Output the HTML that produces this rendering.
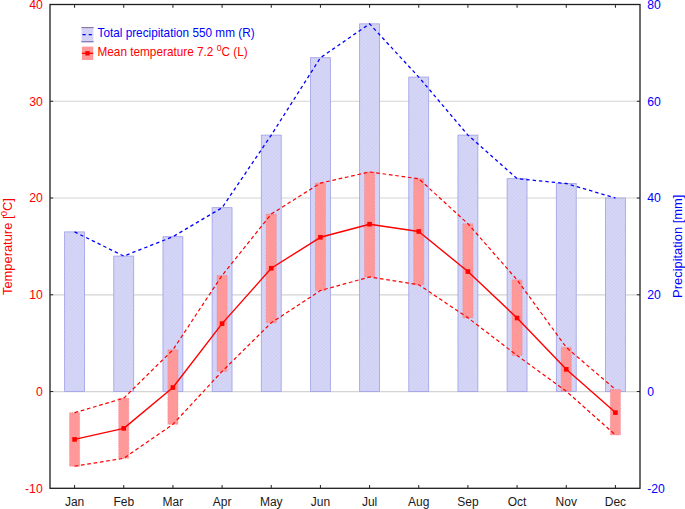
<!DOCTYPE html>
<html><head><meta charset="utf-8"><title>Climate chart</title>
<style>
html,body{margin:0;padding:0;background:#fff;}
body{width:685px;height:509px;overflow:hidden;font-family:"Liberation Sans",sans-serif;}
svg{display:block;}
text{font-family:"Liberation Sans",sans-serif;font-size:11.8px;}
</style></head><body>
<svg width="685" height="509" viewBox="0 0 685 509">
<defs>
<pattern id="hb" width="2.4" height="2.4" patternUnits="userSpaceOnUse" patternTransform="rotate(-45)">
<rect width="2.4" height="2.4" fill="#d8d8f7"/><rect width="2.4" height="1.1" fill="#cdcdf4"/>
</pattern>
</defs>
<rect width="685" height="509" fill="#fff"/>

<line x1="50.0" y1="101.26" x2="640.0" y2="101.26" stroke="#d4d4d4" stroke-width="1.2"/>
<line x1="50.0" y1="198.02" x2="640.0" y2="198.02" stroke="#d4d4d4" stroke-width="1.2"/>
<line x1="50.0" y1="294.78" x2="640.0" y2="294.78" stroke="#d4d4d4" stroke-width="1.2"/>
<line x1="50.0" y1="391.54" x2="640.0" y2="391.54" stroke="#d4d4d4" stroke-width="1.2"/>
<rect x="64.63" y="231.89" width="19.9" height="159.65" fill="url(#hb)" stroke="#9e9ee6" stroke-width="0.8"/>
<rect x="113.80" y="256.08" width="19.9" height="135.46" fill="url(#hb)" stroke="#9e9ee6" stroke-width="0.8"/>
<rect x="162.97" y="236.72" width="19.9" height="154.82" fill="url(#hb)" stroke="#9e9ee6" stroke-width="0.8"/>
<rect x="212.13" y="207.70" width="19.9" height="183.84" fill="url(#hb)" stroke="#9e9ee6" stroke-width="0.8"/>
<rect x="261.30" y="135.13" width="19.9" height="256.41" fill="url(#hb)" stroke="#9e9ee6" stroke-width="0.8"/>
<rect x="310.47" y="57.72" width="19.9" height="333.82" fill="url(#hb)" stroke="#9e9ee6" stroke-width="0.8"/>
<rect x="359.63" y="23.85" width="19.9" height="367.69" fill="url(#hb)" stroke="#9e9ee6" stroke-width="0.8"/>
<rect x="408.80" y="77.07" width="19.9" height="314.47" fill="url(#hb)" stroke="#9e9ee6" stroke-width="0.8"/>
<rect x="457.97" y="135.13" width="19.9" height="256.41" fill="url(#hb)" stroke="#9e9ee6" stroke-width="0.8"/>
<rect x="507.13" y="178.67" width="19.9" height="212.87" fill="url(#hb)" stroke="#9e9ee6" stroke-width="0.8"/>
<rect x="556.30" y="183.51" width="19.9" height="208.03" fill="url(#hb)" stroke="#9e9ee6" stroke-width="0.8"/>
<rect x="605.47" y="198.02" width="19.9" height="193.52" fill="url(#hb)" stroke="#9e9ee6" stroke-width="0.8"/>
<rect x="69.53" y="412.69" width="10.1" height="53.53" fill="#ff9999" stroke="#ee7a8c" stroke-width="0.6" stroke-dasharray="1.2 1"/>
<rect x="118.70" y="398.17" width="10.1" height="60.11" fill="#ff9999" stroke="#ee7a8c" stroke-width="0.6" stroke-dasharray="1.2 1"/>
<rect x="167.87" y="349.77" width="10.1" height="74.54" fill="#ff9999" stroke="#ee7a8c" stroke-width="0.6" stroke-dasharray="1.2 1"/>
<rect x="217.03" y="275.43" width="10.1" height="95.93" fill="#ff9999" stroke="#ee7a8c" stroke-width="0.6" stroke-dasharray="1.2 1"/>
<rect x="266.20" y="214.06" width="10.1" height="108.71" fill="#ff9999" stroke="#ee7a8c" stroke-width="0.6" stroke-dasharray="1.2 1"/>
<rect x="315.37" y="183.08" width="10.1" height="107.45" fill="#ff9999" stroke="#ee7a8c" stroke-width="0.6" stroke-dasharray="1.2 1"/>
<rect x="364.53" y="171.95" width="10.1" height="105.03" fill="#ff9999" stroke="#ee7a8c" stroke-width="0.6" stroke-dasharray="1.2 1"/>
<rect x="413.70" y="178.72" width="10.1" height="106.00" fill="#ff9999" stroke="#ee7a8c" stroke-width="0.6" stroke-dasharray="1.2 1"/>
<rect x="462.87" y="223.74" width="10.1" height="94.09" fill="#ff9999" stroke="#ee7a8c" stroke-width="0.6" stroke-dasharray="1.2 1"/>
<rect x="512.03" y="279.88" width="10.1" height="75.60" fill="#ff9999" stroke="#ee7a8c" stroke-width="0.6" stroke-dasharray="1.2 1"/>
<rect x="561.20" y="347.35" width="10.1" height="43.85" fill="#ff9999" stroke="#ee7a8c" stroke-width="0.6" stroke-dasharray="1.2 1"/>
<rect x="610.37" y="389.46" width="10.1" height="45.50" fill="#ff9999" stroke="#ee7a8c" stroke-width="0.6" stroke-dasharray="1.2 1"/>
<polyline points="74.58,231.89 123.75,256.08 172.92,236.72 222.08,207.70 271.25,135.13 320.42,57.72 369.58,23.85 418.75,77.07 467.92,135.13 517.08,178.67 566.25,183.51 615.42,198.02" fill="none" stroke="#0000ff" stroke-width="1.3" stroke-dasharray="3.4 3"/>
<polyline points="74.58,412.69 123.75,398.17 172.92,349.77 222.08,275.43 271.25,214.06 320.42,183.08 369.58,171.95 418.75,178.72 467.92,223.74 517.08,279.88 566.25,347.35 615.42,389.46" fill="none" stroke="#ff0000" stroke-width="1.2" stroke-dasharray="3.7 2.7"/>
<polyline points="74.58,466.22 123.75,458.28 172.92,424.31 222.08,371.36 271.25,322.76 320.42,290.53 369.58,276.98 418.75,284.72 467.92,317.83 517.08,355.48 566.25,391.20 615.42,434.95" fill="none" stroke="#ff0000" stroke-width="1.2" stroke-dasharray="3.7 2.7"/>
<polyline points="74.58,439.41 123.75,428.37 172.92,387.52 222.08,323.63 271.25,268.26 320.42,237.29 369.58,224.22 418.75,231.48 467.92,271.56 517.08,318.02 566.25,369.32 615.42,412.59" fill="none" stroke="#ff0000" stroke-width="1.4" stroke-linejoin="round"/>
<rect x="72.28" y="437.11" width="4.6" height="4.6" fill="#ff0000"/>
<rect x="121.45" y="426.07" width="4.6" height="4.6" fill="#ff0000"/>
<rect x="170.62" y="385.22" width="4.6" height="4.6" fill="#ff0000"/>
<rect x="219.78" y="321.33" width="4.6" height="4.6" fill="#ff0000"/>
<rect x="268.95" y="265.96" width="4.6" height="4.6" fill="#ff0000"/>
<rect x="318.12" y="234.99" width="4.6" height="4.6" fill="#ff0000"/>
<rect x="367.28" y="221.92" width="4.6" height="4.6" fill="#ff0000"/>
<rect x="416.45" y="229.18" width="4.6" height="4.6" fill="#ff0000"/>
<rect x="465.62" y="269.26" width="4.6" height="4.6" fill="#ff0000"/>
<rect x="514.78" y="315.72" width="4.6" height="4.6" fill="#ff0000"/>
<rect x="563.95" y="367.02" width="4.6" height="4.6" fill="#ff0000"/>
<rect x="613.12" y="410.29" width="4.6" height="4.6" fill="#ff0000"/>
<rect x="50.0" y="4.5" width="590.0" height="483.8" fill="none" stroke="#1e1e1e" stroke-width="1.3"/>
<line x1="74.58" y1="4.5" x2="74.58" y2="7.8" stroke="#222" stroke-width="1"/>
<line x1="74.58" y1="488.3" x2="74.58" y2="485.0" stroke="#222" stroke-width="1"/>
<line x1="123.75" y1="4.5" x2="123.75" y2="7.8" stroke="#222" stroke-width="1"/>
<line x1="123.75" y1="488.3" x2="123.75" y2="485.0" stroke="#222" stroke-width="1"/>
<line x1="172.92" y1="4.5" x2="172.92" y2="7.8" stroke="#222" stroke-width="1"/>
<line x1="172.92" y1="488.3" x2="172.92" y2="485.0" stroke="#222" stroke-width="1"/>
<line x1="222.08" y1="4.5" x2="222.08" y2="7.8" stroke="#222" stroke-width="1"/>
<line x1="222.08" y1="488.3" x2="222.08" y2="485.0" stroke="#222" stroke-width="1"/>
<line x1="271.25" y1="4.5" x2="271.25" y2="7.8" stroke="#222" stroke-width="1"/>
<line x1="271.25" y1="488.3" x2="271.25" y2="485.0" stroke="#222" stroke-width="1"/>
<line x1="320.42" y1="4.5" x2="320.42" y2="7.8" stroke="#222" stroke-width="1"/>
<line x1="320.42" y1="488.3" x2="320.42" y2="485.0" stroke="#222" stroke-width="1"/>
<line x1="369.58" y1="4.5" x2="369.58" y2="7.8" stroke="#222" stroke-width="1"/>
<line x1="369.58" y1="488.3" x2="369.58" y2="485.0" stroke="#222" stroke-width="1"/>
<line x1="418.75" y1="4.5" x2="418.75" y2="7.8" stroke="#222" stroke-width="1"/>
<line x1="418.75" y1="488.3" x2="418.75" y2="485.0" stroke="#222" stroke-width="1"/>
<line x1="467.92" y1="4.5" x2="467.92" y2="7.8" stroke="#222" stroke-width="1"/>
<line x1="467.92" y1="488.3" x2="467.92" y2="485.0" stroke="#222" stroke-width="1"/>
<line x1="517.08" y1="4.5" x2="517.08" y2="7.8" stroke="#222" stroke-width="1"/>
<line x1="517.08" y1="488.3" x2="517.08" y2="485.0" stroke="#222" stroke-width="1"/>
<line x1="566.25" y1="4.5" x2="566.25" y2="7.8" stroke="#222" stroke-width="1"/>
<line x1="566.25" y1="488.3" x2="566.25" y2="485.0" stroke="#222" stroke-width="1"/>
<line x1="615.42" y1="4.5" x2="615.42" y2="7.8" stroke="#222" stroke-width="1"/>
<line x1="615.42" y1="488.3" x2="615.42" y2="485.0" stroke="#222" stroke-width="1"/>
<line x1="50.0" y1="101.26" x2="53.2" y2="101.26" stroke="#222" stroke-width="1"/>
<line x1="640.0" y1="101.26" x2="636.8" y2="101.26" stroke="#222" stroke-width="1"/>
<line x1="50.0" y1="198.02" x2="53.2" y2="198.02" stroke="#222" stroke-width="1"/>
<line x1="640.0" y1="198.02" x2="636.8" y2="198.02" stroke="#222" stroke-width="1"/>
<line x1="50.0" y1="294.78" x2="53.2" y2="294.78" stroke="#222" stroke-width="1"/>
<line x1="640.0" y1="294.78" x2="636.8" y2="294.78" stroke="#222" stroke-width="1"/>
<line x1="50.0" y1="391.54" x2="53.2" y2="391.54" stroke="#222" stroke-width="1"/>
<line x1="640.0" y1="391.54" x2="636.8" y2="391.54" stroke="#222" stroke-width="1"/>
<text x="42.7" y="8.90" text-anchor="end" style="font-size:12.2px" fill="#ff0000">40</text>
<text x="42.7" y="105.66" text-anchor="end" style="font-size:12.2px" fill="#ff0000">30</text>
<text x="42.7" y="202.42" text-anchor="end" style="font-size:12.2px" fill="#ff0000">20</text>
<text x="42.7" y="299.18" text-anchor="end" style="font-size:12.2px" fill="#ff0000">10</text>
<text x="42.7" y="395.94" text-anchor="end" style="font-size:12.2px" fill="#ff0000">0</text>
<text x="42.7" y="492.70" text-anchor="end" style="font-size:12.2px" fill="#ff0000">-10</text>
<text x="647.2" y="8.90" style="font-size:12.2px" fill="#0000ff">80</text>
<text x="647.2" y="105.66" style="font-size:12.2px" fill="#0000ff">60</text>
<text x="647.2" y="202.42" style="font-size:12.2px" fill="#0000ff">40</text>
<text x="647.2" y="299.18" style="font-size:12.2px" fill="#0000ff">20</text>
<text x="647.2" y="395.94" style="font-size:12.2px" fill="#0000ff">0</text>
<text x="647.2" y="492.70" style="font-size:12.2px" fill="#0000ff">-20</text>
<text x="74.58" y="506.2" text-anchor="middle" style="font-size:12px" fill="#1a1a1a">Jan</text>
<text x="123.75" y="506.2" text-anchor="middle" style="font-size:12px" fill="#1a1a1a">Feb</text>
<text x="172.92" y="506.2" text-anchor="middle" style="font-size:12px" fill="#1a1a1a">Mar</text>
<text x="222.08" y="506.2" text-anchor="middle" style="font-size:12px" fill="#1a1a1a">Apr</text>
<text x="271.25" y="506.2" text-anchor="middle" style="font-size:12px" fill="#1a1a1a">May</text>
<text x="320.42" y="506.2" text-anchor="middle" style="font-size:12px" fill="#1a1a1a">Jun</text>
<text x="369.58" y="506.2" text-anchor="middle" style="font-size:12px" fill="#1a1a1a">Jul</text>
<text x="418.75" y="506.2" text-anchor="middle" style="font-size:12px" fill="#1a1a1a">Aug</text>
<text x="467.92" y="506.2" text-anchor="middle" style="font-size:12px" fill="#1a1a1a">Sep</text>
<text x="517.08" y="506.2" text-anchor="middle" style="font-size:12px" fill="#1a1a1a">Oct</text>
<text x="566.25" y="506.2" text-anchor="middle" style="font-size:12px" fill="#1a1a1a">Nov</text>
<text x="615.42" y="506.2" text-anchor="middle" style="font-size:12px" fill="#1a1a1a">Dec</text>
<text transform="translate(12.3,246.6) rotate(-90)" text-anchor="middle" style="font-size:12.9px" fill="#ff0000">Temperature [<tspan style="font-size:9.5px" dy="-5.8" dx="-0.6">0</tspan><tspan dy="5.8" dx="-0.2">C]</tspan></text>
<text transform="translate(682.3,246.3) rotate(-90)" text-anchor="middle" style="font-size:12.9px" fill="#0000ff">Precipitation [mm]</text>
<rect x="81.6" y="27.6" width="11.8" height="14.2" fill="url(#hb)" stroke="none"/>
<line x1="81.3" y1="27.6" x2="93.7" y2="27.6" stroke="#7a5a8a" stroke-width="0.9"/>
<line x1="81.3" y1="41.8" x2="93.7" y2="41.8" stroke="#5a4a9a" stroke-width="0.9"/>
<line x1="82.5" y1="34.7" x2="93" y2="34.7" stroke="#0000ff" stroke-width="1.3" stroke-dasharray="3.2 3"/>
<text transform="translate(97.5,37.3) scale(0.966,1)" style="font-size:12.2px" fill="#0000ff">Total precipitation 550 mm (R)</text>
<rect x="81.9" y="46.6" width="11.3" height="13.4" fill="#ff9999"/>
<line x1="81.9" y1="53.3" x2="93.2" y2="53.3" stroke="#ff0000" stroke-width="1.3"/>
<rect x="85.3" y="51.1" width="4.4" height="4.4" fill="#ff0000"/>
<text transform="translate(97.5,55.8) scale(0.966,1)" style="font-size:12.2px" fill="#ff0000">Mean temperature 7.2 <tspan style="font-size:9px" dy="-5">0</tspan><tspan dy="5">C (L)</tspan></text>
</svg></body></html>
